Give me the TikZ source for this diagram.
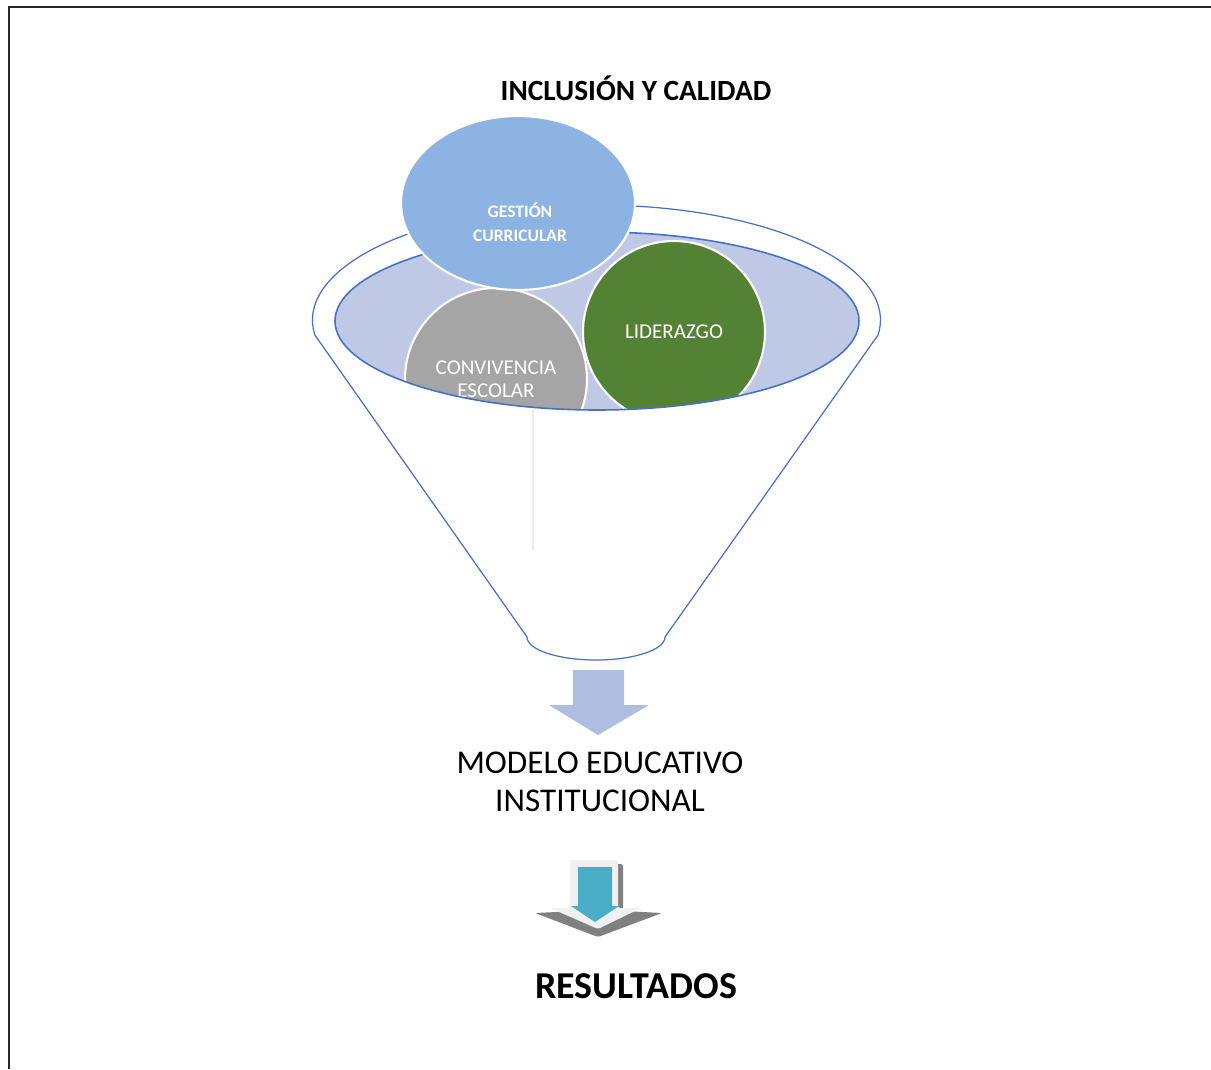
\documentclass[tikz,border=0pt]{standalone}
\usepackage{fontspec}
\setmainfont{Carlito}
\usetikzlibrary{shapes.geometric}

\definecolor{embudo}{HTML}{4472C4}
\definecolor{lavanda}{HTML}{BFC8E4}
\definecolor{flechauno}{HTML}{AFBDE1}
\definecolor{gestionc}{HTML}{8DB3E2}
\definecolor{convc}{HTML}{A5A5A5}
\definecolor{liderc}{HTML}{548235}
\definecolor{tealc}{HTML}{4BACC6}

\begin{document}
\begin{tikzpicture}[x=0.02cm,y=0.02cm]
            \useasboundingbox (0,0) rectangle (1211,-1069);
            \draw[line width=1.6pt,black!85] (9,-1069) -- (9,-7) -- (1211,-7);
            \node[font=\bfseries\fontsize{16.7}{20}\selectfont] (titulo) at (636,-88) {INCLUSIÓN Y CALIDAD};
            % embudo
            \draw[embudo,line width=0.7pt] (527,-637) arc[start angle=180,end angle=360,x radius=69,y radius=23]
                -- (878,-335) arc[start angle=-7.5,end angle=187.5,x radius=284,y radius=115] -- cycle;
            \fill[lavanda] (597,-321) ellipse[x radius=262,y radius=89];
            \begin{scope}
                \clip (597,-321) ellipse[x radius=262,y radius=89];
                \begin{scope}[every node/.style={circle,draw=white,line width=1.2pt,minimum size=3.64cm,inner sep=0pt,text=white,align=center,font=\fontsize{12}{13.1}\selectfont}]
                    \node[fill=convc] (convivencia) at (496,-379) {CONVIVENCIA\\ESCOLAR};
                    \node[fill=liderc] (liderazgo) at (674,-332) {LIDERAZGO};
                \end{scope}
            \end{scope}
            \draw[embudo,line width=0.9pt] (597,-321) ellipse[x radius=262,y radius=89];
            \draw[black!8,line width=0.6pt] (533,-410) -- (533,-550);
            \node[ellipse,fill=gestionc,draw=white,line width=1.2pt,minimum width=4.68cm,minimum height=3.48cm] (gestion) at (518,-203) {};
            \node[text=white,align=center,font=\bfseries\fontsize{10}{13.7}\selectfont] (gestiontxt) at (520,-222) {GESTIÓN\\CURRICULAR};
            % flechas
            \fill[flechauno] (573,-670) -- (624,-670) -- (624,-705) -- (649,-705) -- (598,-735) -- (549,-705) -- (573,-705) -- cycle;
            \node[align=center,font=\fontsize{18.9}{21.6}\selectfont] (modelo) at (600,-782) {MODELO EDUCATIVO\\INSTITUCIONAL};
            \fill[black!50,rounded corners=1pt] (578,-864) -- (623,-864) -- (623,-911) -- (662,-913) -- (598,-937) -- (535,-913) -- (578,-911) -- cycle;
            \fill[black!6,rounded corners=1pt] (570,-860) -- (618,-860) -- (618,-908) -- (641,-908) -- (598,-929) -- (550,-908) -- (570,-908) -- cycle;
            \fill[tealc] (578,-867) -- (612,-867) -- (612,-906) -- (619,-906) -- (595,-922) -- (571,-906) -- (578,-906) -- cycle;
            \node[font=\bfseries\fontsize{21.6}{25}\selectfont] (resultados) at (636,-986) {RESULTADOS};
        \end{tikzpicture}
\end{document}
